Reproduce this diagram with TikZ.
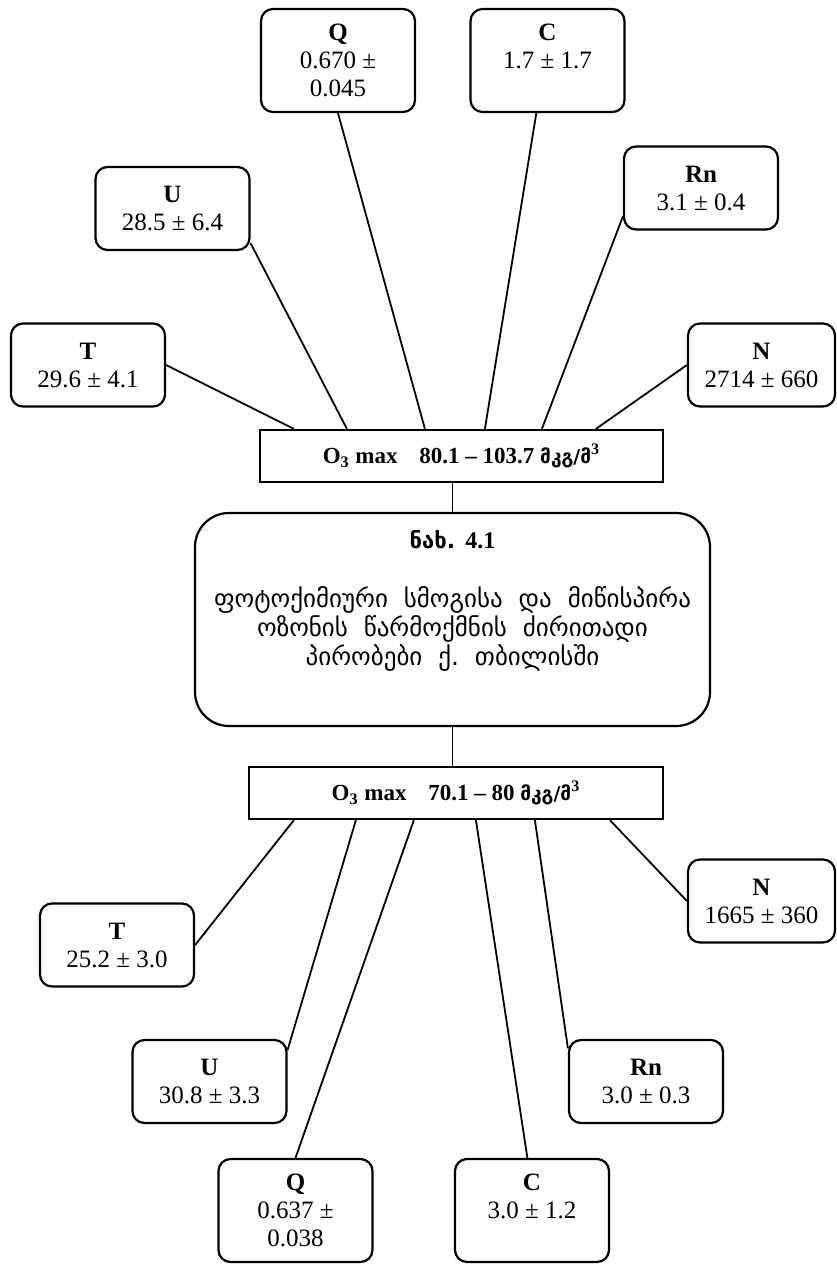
\documentclass[tikz,border=0pt]{standalone}
\usepackage{fontspec}
\setmainfont{Liberation Serif}
\newfontfamily\geo{DejaVu Sans}
\usetikzlibrary{calc}

\newcommand\mkgm{{\geo\fontsize{9.5}{10}\selectfont მკგ/მ}\textsuperscript{3}}

\begin{document}
\begin{tikzpicture}[x=0.5pt, y=-0.5pt,
    param/.style={draw, line width=1.1pt, rounded corners=6pt, align=center,
        minimum width=77pt, minimum height=41.5pt, inner sep=2pt,
        font=\fontsize{12.5}{14}\selectfont},
    tall/.style={minimum height=51.5pt},
    ozone/.style={draw, line width=1.1pt, minimum height=26pt,
        font=\bfseries\fontsize{11.5}{13}\selectfont},
    link/.style={line width=0.9pt}]
\useasboundingbox (0,0) rectangle (836,1267);

% upper group
\node[param] (ta) at (88,365) {\textbf{T}\\29.6 ± 4.1};
\node[param] (ua) at (172.5,208.5) {\textbf{U}\\28.5 ± 6.4};
\node[param, tall] (qa) at (338,60.5) {\textbf{Q}\\0.670 ±\\0.045};
\node[param, tall] (ca) at (547.5,60.5) {\textbf{C}\\1.7 ± 1.7\\~};
\node[param] (rna) at (701,188) {\textbf{Rn}\\3.1 ± 0.4};
\node[param, minimum width=73.5pt] (na) at (761.5,365) {\textbf{N}\\2714 ± 660};
\node[ozone, minimum width=201.5pt] (o3a) at (461.5,456)
    {O\textsubscript{3} max\hspace{0.7em} 80.1 – 103.7 \mkgm};

% figure caption
\node[draw, line width=1.1pt, rounded corners=17pt, minimum width=257.5pt,
    minimum height=106.5pt] (fig) at (452.5,619.5) {};
\node[font=\geo\bfseries\fontsize{11}{12}\selectfont] (fignum) at (452.5,540)
    {ნახ. {\rmfamily\fontsize{12}{12}\selectfont 4.1}};
\node[align=center, font=\geo\fontsize{12.5}{13}\selectfont] (figtitle) at (452.5,629)
    {ფოტოქიმიური~~სმოგისა~~და~~მიწისპირა\\ოზონის~~წარმოქმნის~~ძირითადი\\პირობები~~ქ.~~თბილისში};

% lower group
\node[ozone, minimum width=207pt] (o3b) at (456,793)
    {O\textsubscript{3} max\hspace{0.7em} 70.1 – 80 \mkgm};
\node[param] (tb) at (117,945) {\textbf{T}\\25.2 ± 3.0};
\node[param] (ub) at (209.5,1081.5) {\textbf{U}\\30.8 ± 3.3};
\node[param, tall] (qb) at (295.5,1210.5) {\textbf{Q}\\0.637 ±\\0.038};
\node[param, tall] (cb) at (532,1210.5) {\textbf{C}\\3.0 ± 1.2\\~};
\node[param] (rnb) at (646,1081.5) {\textbf{Rn}\\3.0 ± 0.3};
\node[param, minimum width=73.5pt] (nb) at (761.5,901) {\textbf{N}\\1665 ± 360};

\draw[link] (fig.north) -- (fig.north |- o3a.south);
\draw[link] (fig.south) -- (fig.south |- o3b.north);
\foreach \b/\d in {ta.east/35, ua.-24/88, qa.south/166, ca.-102/226, rna.200/283, na.west/337}
    \draw[link] (\b) -- ($(o3a.north west)+(\d,0)$);
\foreach \b/\d in {tb.east/46, ub.22/108, qb.north/166, cb.95/228, rnb.157/287, nb.west/362}
    \draw[link] (\b) -- ($(o3b.south west)+(\d,0)$);
\end{tikzpicture}
\end{document}
